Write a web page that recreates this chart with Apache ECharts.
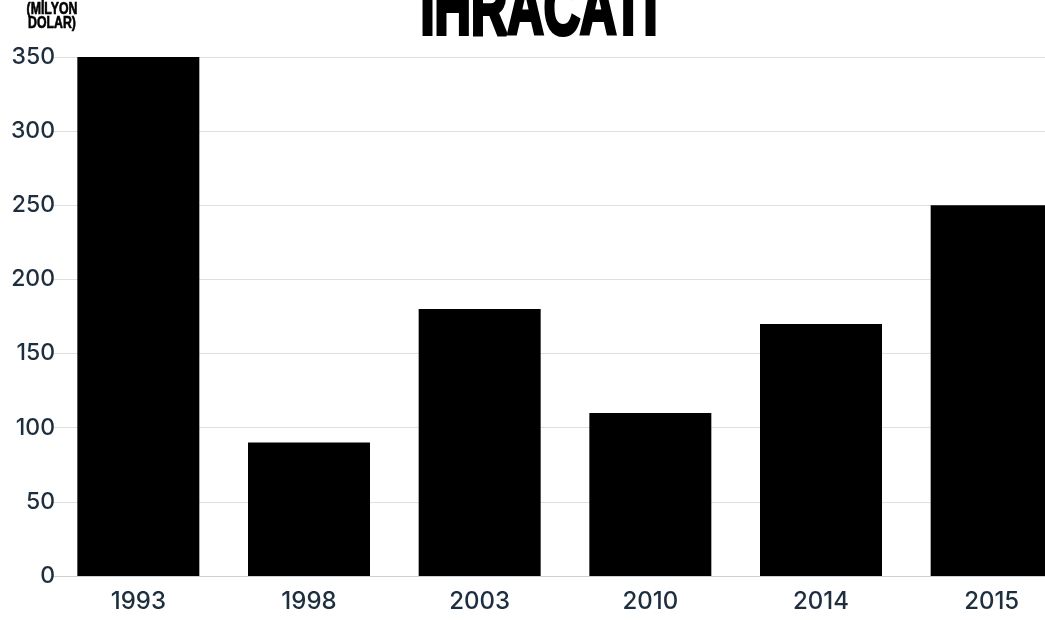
<!DOCTYPE html>
<html>
<head>
<meta charset="utf-8">
<script src="https://cdn.jsdelivr.net/npm/echarts@6/dist/echarts.min.js"></script>
<style>
    html, body { margin: 0; padding: 0; overflow: hidden; background: #fff; }
    #chart { width: 1080px; height: 620px; }
</style>
</head>
<body>
<div id="chart"></div>
<script>
// veriler
const years = ["1993", "1998", "2003", "2010", "2014", "2015"];
const exportValues = [350, 90, 180, 110, 170, 250];
const yTicks = { min: 0, max: 350, step: 50 };

const labelColor = "#1d2e3f";

const chart = echarts.init(document.getElementById("chart"));

chart.setOption({
    animation: false,
    grid: { left: 53, top: 57, width: 1024, bottom: 44 },
    graphic: [
        {
            // başlık (üstü kesik)
            type: "text",
            x: 539,
            y: 52,
            scaleX: 0.9,
            scaleY: 1.4,
            style: {
                text: "İHRACATI",
                font: 'bold 56px "Liberation Sans"',
                fill: "#000",
                stroke: "#000",
                lineWidth: 3,
                align: "center",
                verticalAlign: "bottom",
            },
        },
        {
            // eksen birimi
            type: "text",
            x: 52,
            y: 2,
            scaleX: 0.82,
            scaleY: 1.15,
            style: {
                text: "(MİLYON\nDOLAR)",
                font: 'bold 15px "Liberation Sans"',
                lineHeight: 12.5,
                fill: "#000",
                stroke: "#000",
                lineWidth: 0.6,
                align: "center",
                verticalAlign: "top",
            },
        },
    ],
    xAxis: {
        type: "category",
        data: years,
        axisTick: { show: false },
        axisLine: { lineStyle: { color: "#c9d0d7", width: 1 } },
        axisLabel: {
            color: labelColor,
            fontFamily: "Inter",
            fontSize: 24,
            fontWeight: 500,
            margin: 14,
        },
    },
    yAxis: {
        type: "value",
        min: yTicks.min,
        max: yTicks.max,
        interval: yTicks.step,
        axisLine: { show: false },
        axisTick: { show: false },
        splitLine: { lineStyle: { color: "#dcdfe3", width: 1 } },
        axisLabel: {
            color: labelColor,
            fontFamily: "Inter",
            fontSize: 23,
            fontWeight: 500,
            margin: -2,
        },
    },
    series: [
        {
            type: "bar",
            data: exportValues,
            barWidth: 122,
            itemStyle: { color: "#000" },
        },
    ],
});
</script>
</body>
</html>
